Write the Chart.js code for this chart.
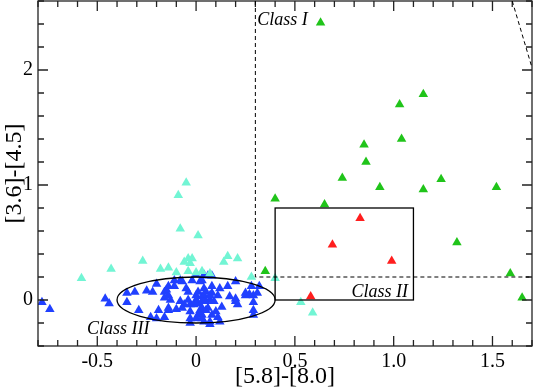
<!DOCTYPE html>
<html>
<head>
<meta charset="utf-8">
<script src="https://cdn.jsdelivr.net/npm/chart.js@4"></script>
<style>
  html, body { margin: 0; padding: 0; background: #fff; }
  canvas { display: block; }
</style>
</head>
<body>
<canvas id="ccd" width="533" height="391"></canvas>
<script>
// colour-colour points, [x, y] = [[5.8]-[8.0], [3.6]-[4.5]]
const classI = [
  [0.63, 2.41], [1.15, 1.79], [1.03, 1.70], [1.04, 1.40], [0.85, 1.35], [0.86, 1.20],
  [0.74, 1.06], [0.93, 0.98], [1.15, 0.96], [1.24, 1.05], [1.52, 0.98], [0.40, 0.88],
  [0.65, 0.83], [1.32, 0.50], [1.59, 0.23], [1.65, 0.02], [0.35, 0.25]
];
const classII = [[0.83, 0.71], [0.69, 0.48], [0.99, 0.34], [0.58, 0.03]];
const transition = [
  [-0.05, 1.02], [-0.09, 0.91], [-0.08, 0.62], [0.01, 0.56], [-0.58, 0.19], [-0.43, 0.27],
  [-0.27, 0.34], [-0.18, 0.27], [-0.14, 0.28], [-0.10, 0.24], [-0.06, 0.33], [-0.04, 0.36],
  [-0.02, 0.36], [-0.03, 0.32], [-0.04, 0.25], [0.00, 0.24], [0.03, 0.25], [0.07, 0.23],
  [0.14, 0.33], [0.16, 0.38], [0.21, 0.36], [0.28, 0.20], [0.40, 0.19], [0.53, -0.02], [0.59, -0.11]
];
const classIII = [
  [-0.78, -0.02], [-0.74, -0.08], [-0.46, 0.01], [-0.44, -0.03],
  [-0.35, -0.02], [-0.35, 0.06], [-0.31, 0.07], [-0.29, -0.09], [-0.25, 0.08], [-0.22, 0.07],
  [-0.20, 0.14], [-0.23, -0.15], [-0.20, -0.16], [-0.19, -0.09], [-0.16, 0.07], [-0.14, 0.04],
  [-0.15, 0.09], [-0.14, 0.12], [-0.16, 0.02], [-0.13, 0.00], [-0.11, 0.17], [-0.11, 0.12],
  [-0.08, 0.17], [-0.07, 0.16], [-0.05, 0.10], [-0.04, 0.07], [-0.02, 0.17], [0.02, 0.16],
  [0.00, 0.22], [0.04, 0.22], [0.03, 0.17], [0.08, 0.21], [0.06, 0.21],
  [-0.08, -0.01], [-0.06, -0.04], [-0.03, -0.04], [0.01, -0.03], [-0.04, 0.00], [0.00, 0.04],
  [0.00, 0.00], [0.03, 0.03], [0.05, 0.07], [0.01, 0.07], [0.04, 0.04], [0.04, 0.10],
  [0.08, 0.12], [0.08, 0.06], [0.03, -0.01], [0.07, 0.00], [0.09, -0.01], [0.05, -0.01],
  [-0.14, -0.07], [-0.10, -0.08], [-0.14, -0.09], [-0.16, -0.15], [-0.07, -0.07], [-0.03, -0.10],
  [0.02, -0.09], [0.05, -0.09], [0.03, -0.07], [0.06, -0.07], [0.00, -0.16], [-0.03, -0.16],
  [-0.03, -0.20], [0.03, -0.13], [0.01, -0.13], [0.03, -0.16], [0.04, -0.19], [0.07, -0.21],
  [-0.01, -0.04], [0.12, 0.10], [0.16, 0.12], [0.07, 0.04], [0.11, 0.04], [0.13, -0.06],
  [0.17, 0.03], [0.20, 0.01], [0.20, 0.16], [0.20, -0.01], [0.21, -0.04], [0.25, 0.04],
  [0.25, 0.06], [0.27, 0.05], [0.29, 0.04], [0.31, 0.06], [0.28, 0.12], [0.32, 0.12],
  [0.29, -0.02], [0.29, -0.09], [0.29, -0.13], [0.08, -0.13], [0.11, -0.15], [0.12, -0.19],
  [0.07, -0.19], [0.10, -0.10]
];

const xTicks = [-0.5, 0, 0.5, 1, 1.5];
const yTicks = [0, 1, 2];

const SERIF = "'Liberation Serif', 'DejaVu Serif', serif";

const toPts = arr => arr.map(([x, y]) => ({ x, y }));
const tri = (data, color) => ({
  data: toPts(data),
  pointStyle: 'triangle',
  pointRadius: 5.5,
  pointHoverRadius: 5.5,
  backgroundColor: color,
  borderColor: color,
  borderWidth: 0
});

// the axes must not reserve room for half-labels at the ends
const fixBox = (s, prop, size) => {
  s[prop] = size;
  s.paddingTop = s.paddingBottom = s.paddingLeft = s.paddingRight = 0;
};

// frame, inward ticks, class boundaries and labels
const overlay = {
  id: 'overlay',
  afterDatasetsDraw(chart) {
    const { ctx, chartArea: a, scales: { x, y } } = chart;
    const px = v => x.getPixelForValue(v);
    const py = v => y.getPixelForValue(v);
    ctx.save();

    ctx.strokeStyle = '#222';
    ctx.lineWidth = 1.3;
    ctx.strokeRect(a.left, a.top, a.right - a.left, a.bottom - a.top);

    ctx.beginPath();
    for (let i = -8; i <= 17; i++) {
      const X = px(i / 10), len = i % 5 === 0 ? 10 : 6;
      ctx.moveTo(X, a.bottom); ctx.lineTo(X, a.bottom - len);
      ctx.moveTo(X, a.top); ctx.lineTo(X, a.top + len);
    }
    for (let j = -2; j <= 13; j++) {
      const Y = py(j / 5), len = j % 5 === 0 ? 10 : 6;
      ctx.moveTo(a.left, Y); ctx.lineTo(a.left + len, Y);
      ctx.moveTo(a.right, Y); ctx.lineTo(a.right - len, Y);
    }
    ctx.stroke();

    ctx.strokeStyle = '#000';
    ctx.lineWidth = 1;
    ctx.setLineDash([4, 3]);
    ctx.beginPath();
    ctx.moveTo(px(0.3), a.top); ctx.lineTo(px(0.3), py(0.2));
    ctx.lineTo(a.right, py(0.2));
    ctx.moveTo(px(1.6), a.top); ctx.lineTo(px(1.7), py(2.02));
    ctx.stroke();
    ctx.setLineDash([]);

    ctx.lineWidth = 1.3;
    ctx.strokeRect(px(0.4), py(0.8), px(1.1) - px(0.4), py(0) - py(0.8));

    ctx.beginPath();
    ctx.ellipse(px(0), py(0), px(0.4) - px(0), py(0) - py(0.2), 0, 0, Math.PI * 2);
    ctx.stroke();

    ctx.fillStyle = '#000';
    ctx.font = 'italic 18px ' + SERIF;
    ctx.textAlign = 'left';
    ctx.textBaseline = 'alphabetic';
    ctx.fillText('Class I', px(0.31), py(2.39));
    ctx.fillText('Class II', px(0.787), py(0.026));
    ctx.fillText('Class III', px(-0.552), py(-0.297));
    ctx.restore();
  }
};

new Chart(document.getElementById('ccd'), {
  type: 'scatter',
  data: {
    datasets: [
      tri(transition, '#72f5d4'),
      tri(classIII, '#2040ff'),
      tri(classI, '#20c41a'),
      tri(classII, '#ff1e1e')
    ]
  },
  options: {
    responsive: false,
    animation: false,
    layout: { autoPadding: false, padding: { top: 1, right: 1, left: 0, bottom: 0 } },
    plugins: { legend: { display: false }, tooltip: { enabled: false } },
    scales: {
      x: {
        type: 'linear',
        min: -0.8,
        max: 1.7,
        afterBuildTicks: s => { s.ticks = xTicks.map(v => ({ value: v })); },
        afterFit: s => fixBox(s, 'height', 45),
        grid: { display: false, drawTicks: false },
        border: { display: false },
        ticks: { color: '#000', padding: 4, maxRotation: 0, font: { family: SERIF, size: 20 } },
        title: { display: true, text: '[5.8]-[8.0]', color: '#000', padding: 0, font: { family: SERIF, size: 24 } }
      },
      y: {
        type: 'linear',
        min: -0.4,
        max: 2.6,
        afterBuildTicks: s => { s.ticks = yTicks.map(v => ({ value: v })); },
        afterFit: s => fixBox(s, 'width', 38),
        grid: { display: false, drawTicks: false },
        border: { display: false },
        ticks: { color: '#000', padding: 5, font: { family: SERIF, size: 20 } },
        title: { display: true, text: '[3.6]-[4.5]', color: '#000', padding: 0, font: { family: SERIF, size: 24 } }
      }
    }
  },
  plugins: [overlay]
});
</script>
</body>
</html>
